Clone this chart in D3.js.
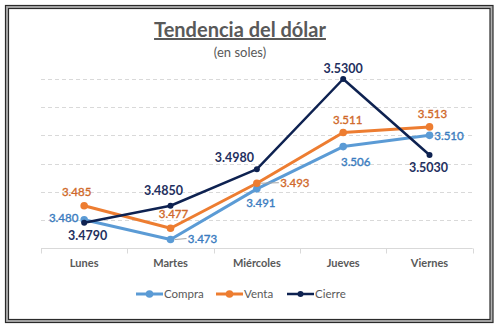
<!DOCTYPE html>
<html>
<head>
<meta charset="utf-8">
<script src="https://cdn.jsdelivr.net/npm/d3@7"></script>
<style>
  html, body { margin: 0; padding: 0; background: #fff; }
  svg { display: block; font-family: Lato, "Open Sans", sans-serif; }
</style>
</head>
<body>
<svg id="chart" width="499" height="327"></svg>
<script>
// Daily exchange rates (soles per dollar)
const days = ["Lunes", "Martes", "Miércoles", "Jueves", "Viernes"];
const compra = [3.480, 3.473, 3.491, 3.506, 3.510];
const venta = [3.485, 3.477, 3.493, 3.511, 3.513];
const cierre = [3.479, 3.485, 3.498, 3.530, 3.503];
const yTicks = [3.47, 3.48, 3.49, 3.50, 3.51, 3.52, 3.53];

// Series styling and label placement (offset of the label centre from its point)
const series = [
  { name: "Compra", values: compra, line: "#5b9bd5", text: "#3a7cc0", width: 3, r: 3.8, fmt: d3.format(".3f"), bold: false,
    offsets: [[-20.5, -2], [32, -1], [4, 14], [12.5, 15], [19.5, 0.7]], leader: [false, true, false, false, false] },
  { name: "Venta", values: venta, line: "#ed7d31", text: "#d0692a", width: 3, r: 3.8, fmt: d3.format(".3f"), bold: false,
    offsets: [[-7.5, -14], [3, -14], [38, -0.5], [4.5, -12.5], [3, -13]], leader: [false, false, true, false, false] },
  { name: "Cierre", values: cierre, line: "#0e2251", text: "#1f3060", width: 2.5, r: 3, fmt: d3.format(".4f"), bold: true,
    offsets: [[3.5, 12.5], [-7, -15], [-22.5, -12], [0, -10], [-1, 13]], leader: [false, false, false, false, false] }
];

const svg = d3.select("#chart");

// Double frame around the chart
svg.append("rect").attr("x", 5.5).attr("y", 5.5).attr("width", 487.5).attr("height", 317)
  .attr("fill", "#b0b0b0").attr("stroke", "#2b2b2b").attr("stroke-width", 1.2);
svg.append("rect").attr("x", 8.5).attr("y", 8.5).attr("width", 481.5).attr("height", 311)
  .attr("fill", "#ffffff").attr("stroke", "#2b2b2b").attr("stroke-width", 1.2);

// Title and subtitle
svg.append("text").attr("x", 240).attr("y", 37).attr("text-anchor", "middle")
  .attr("font-size", 20).attr("font-weight", "bold").attr("fill", "#595959")
  .attr("text-decoration", "underline").text("Tendencia del dólar");
svg.append("text").attr("x", 240).attr("y", 57).attr("text-anchor", "middle")
  .attr("font-size", 13).attr("fill", "#595959").text("(en soles)");

const x = d3.scaleBand().domain(days).range([41, 472.7]);
const y = d3.scaleLinear().domain([3.47, 3.53]).range([248, 79]);
const cx = d => x(d) + x.bandwidth() / 2;

// Horizontal dashed gridlines
svg.append("g").selectAll("line").data(yTicks.slice(1)).join("line")
  .attr("x1", 41).attr("x2", 472.7)
  .attr("y1", d => Math.round(y(d)) + 0.5).attr("y2", d => Math.round(y(d)) + 0.5)
  .attr("stroke", "#d9d9d9").attr("stroke-width", 1).attr("stroke-dasharray", "4,3");

// Category axis with boundary ticks
const axisG = svg.append("g").attr("transform", "translate(0,248.5)");
axisG.append("line").attr("x1", 41).attr("x2", 472.7).attr("stroke", "#d9d9d9");
const bounds = days.map(d => x(d)).concat([x(days[days.length - 1]) + x.bandwidth()]);
axisG.selectAll("line.tick").data(bounds).join("line").attr("class", "tick")
  .attr("x1", d => Math.round(d) + 0.5).attr("x2", d => Math.round(d) + 0.5)
  .attr("y1", 0).attr("y2", 5).attr("stroke", "#d9d9d9");
axisG.selectAll("text").data(days).join("text")
  .attr("x", d => cx(d)).attr("y", 18.5).attr("text-anchor", "middle")
  .attr("font-size", 11).attr("font-weight", "bold").attr("fill", "#595959").text(d => d);

// Lines and markers
const lineGen = d3.line().x((v, i) => cx(days[i])).y(v => y(v));
series.forEach(s => {
  const g = svg.append("g");
  g.append("path").datum(s.values).attr("d", lineGen).attr("fill", "none")
    .attr("stroke", s.line).attr("stroke-width", s.width).attr("stroke-linejoin", "round");
  g.selectAll("circle").data(s.values).join("circle")
    .attr("cx", (v, i) => cx(days[i])).attr("cy", v => y(v)).attr("r", s.r).attr("fill", s.line);
});

// Data labels (drawn after all lines so they sit on top)
series.forEach(s => {
  const g = svg.append("g");
  s.values.forEach((v, i) => {
    const px = cx(days[i]), py = y(v);
    const [dx, dy] = s.offsets[i];
    if (s.leader[i]) {
      g.append("line").attr("x1", px + 4).attr("y1", py).attr("x2", px + dx - 16).attr("y2", py + dy)
        .attr("stroke", "#a6a6a6").attr("stroke-width", 1);
    }
    const t = g.append("text").attr("x", px + dx).attr("y", py + dy).attr("dy", "0.35em")
      .attr("text-anchor", "middle").attr("font-size", s.bold ? 12.5 : 11.5)
      .attr("font-weight", s.bold ? "bold" : "normal").attr("fill", s.text).text(s.fmt(v));
    // slightly heavier strokes for the regular-weight labels
    if (!s.bold) t.attr("stroke", s.text).attr("stroke-width", 0.35);
  });
});

// Legend
const legend = svg.append("g").attr("transform", "translate(0,294)");
const legendX = [136, 216, 287];
series.forEach((s, i) => {
  const lg = legend.append("g").attr("transform", `translate(${legendX[i]},0)`);
  lg.append("line").attr("x1", 0).attr("x2", 27).attr("stroke", s.line).attr("stroke-width", s.width);
  lg.append("circle").attr("cx", 13.5).attr("r", s.r).attr("fill", s.line);
  lg.append("text").attr("x", 28).attr("dy", "0.35em").attr("font-size", 11.5)
    .attr("fill", "#595959").text(s.name);
});
</script>
</body>
</html>
